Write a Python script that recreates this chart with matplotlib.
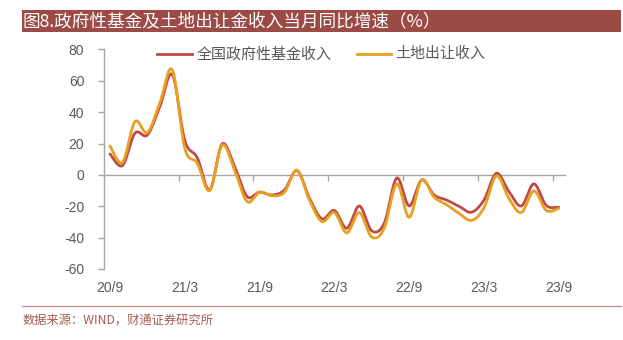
import numpy as np
import matplotlib
matplotlib.use('Agg')
import matplotlib.pyplot as plt
from matplotlib.patches import Rectangle
from matplotlib.lines import Line2D

plt.rcParams['font.family'] = ['Liberation Sans', 'Noto Sans CJK SC', 'DejaVu Sans']

months = ['20/9', '20/10', '20/11', '20/12', '21/1', '21/2', '21/3', '21/4', '21/5', '21/6',
          '21/7', '21/8', '21/9', '21/10', '21/11', '21/12', '22/1', '22/2', '22/3', '22/4',
          '22/5', '22/6', '22/7', '22/8', '22/9', '22/10', '22/11', '22/12', '23/1', '23/2',
          '23/3', '23/4', '23/5', '23/6', '23/7', '23/8', '23/9']
tick_labels = ['20/9', '21/3', '21/9', '22/3', '22/9', '23/3', '23/9']
y_ticks = [-60, -40, -20, 0, 20, 40, 60, 80]

gov_fund = [13.4, 6, 26.6, 25.5, 43.6, 64, 22, 11, -9.6, 19.8,
            5.3, -13.8, -11, -12.8, -9.6, 2.8, -14.8, -28, -22.7, -34,
            -19.8, -35.7, -30.8, -2, -19.8, -3.2, -12.8, -16, -20, -23.8,
            -16, 1, -10.6, -19.8, -5.7, -19.5, -20.6]
land_sale = [18.5, 8, 34, 27, 46, 67, 17, 7.5, -10, 19,
             3, -17, -11, -13.3, -11, 3, -16, -29.8, -24, -37,
             -24, -39.7, -34, -5.7, -27, -3.2, -14.2, -19, -24.5, -29,
             -21, -0.6, -15, -24, -10.2, -22.7, -21.3]

series_names = ['全国政府性基金收入', '土地出让收入']
colors = ['#BE4B48', '#E8A020']


def smooth(xs, ys, n=20):
    """Excel-like smoothed line (Catmull-Rom style cubic Bezier)."""
    xs = np.asarray(xs, float)
    ys = np.asarray(ys, float)
    px = np.concatenate([[xs[0]], xs, [xs[-1]]])
    py = np.concatenate([[ys[0]], ys, [ys[-1]]])
    t = np.linspace(0, 1, n, endpoint=False)
    ox, oy = [], []
    for i in range(1, len(px) - 2):
        p0x, p1x, p2x, p3x = px[i - 1], px[i], px[i + 1], px[i + 2]
        p0y, p1y, p2y, p3y = py[i - 1], py[i], py[i + 1], py[i + 2]
        b1x = p1x + (p2x - p0x) / 6
        b1y = p1y + (p2y - p0y) / 6
        b2x = p2x - (p3x - p1x) / 6
        b2y = p2y - (p3y - p1y) / 6
        bx = (1 - t) ** 3 * p1x + 3 * (1 - t) ** 2 * t * b1x + 3 * (1 - t) * t ** 2 * b2x + t ** 3 * p2x
        by = (1 - t) ** 3 * p1y + 3 * (1 - t) ** 2 * t * b1y + 3 * (1 - t) * t ** 2 * b2y + t ** 3 * p2y
        ox.append(bx)
        oy.append(by)
    ox.append([xs[-1]])
    oy.append([ys[-1]])
    return np.concatenate(ox), np.concatenate(oy)


W, H = 623, 340
fig = plt.figure(figsize=(W / 100, H / 100), dpi=100)

# axes placement
left_px, right_px, top_px, bot_px = 103.75, 565, 49.5, 269
ax = fig.add_axes([left_px / W, 1 - bot_px / H, (right_px - left_px) / W, (bot_px - top_px) / H])

x = np.arange(len(months))
for vals, c in zip([gov_fund, land_sale], colors):
    sx, sy = smooth(x, vals)
    ax.plot(sx, sy, color=c, lw=2.0, solid_capstyle='round', zorder=3)

ax.set_xlim(-0.5, len(months) - 0.5)
ax.set_ylim(-60, 80)
ax.set_yticks(y_ticks)
ax.set_yticklabels([str(v) for v in y_ticks])

axis_gray = '#A6A6A6'
text_gray = '#595959'
for s in ['top', 'right']:
    ax.spines[s].set_visible(False)
ax.spines['left'].set_color(axis_gray)
ax.spines['left'].set_linewidth(1.0)
ax.spines['bottom'].set_position(('data', 0))
ax.spines['bottom'].set_color(axis_gray)
ax.spines['bottom'].set_linewidth(1.0)

# category tick marks between groups of 6 months on the zero line
ax.set_xticks([i + 5.5 for i in range(0, len(months) - 1, 6)])
ax.set_xticklabels([])
ax.tick_params(axis='x', direction='out', length=4, color=axis_gray, width=1.0)
ax.tick_params(axis='y', direction='out', length=4, color=axis_gray, width=1.0,
               labelsize=10, labelcolor=text_gray, pad=10)

sec = ax.secondary_xaxis(0.0)
sec.set_xticks([months.index(l) for l in tick_labels])
sec.set_xticklabels(tick_labels)
sec.tick_params(length=0, labelsize=10, labelcolor=text_gray, pad=9)
sec.spines['bottom'].set_visible(False)

# title bar
fig.add_artist(Rectangle((22 / W, 1 - 32 / H), (621 - 22) / W, 22 / H,
                         transform=fig.transFigure, facecolor='#9B4A45', edgecolor='none'))
fig.text(23 / W, 1 - 21 / H, '图8.政府性基金及土地出让金收入当月同比增速（%）',
         color='white', fontsize=12.7, va='center', ha='left',
         family=['Noto Sans CJK SC', 'DejaVu Sans'])

# legend
leg_items = [(157, 192, 197), (357, 391, 395)]
for (x0, x1, tx), name, c in zip(leg_items, series_names, colors):
    fig.add_artist(Line2D([x0 / W, x1 / W], [1 - 54 / H, 1 - 54 / H], color=c, lw=2.0,
                          transform=fig.transFigure))
    fig.text(tx / W, 1 - 54 / H, name, color=text_gray, fontsize=10.8, va='center', ha='left',
             family=['Noto Sans CJK SC', 'DejaVu Sans'])

# bottom rule and source
fig.add_artist(Line2D([22 / W, 621 / W], [1 - 306 / H, 1 - 306 / H], color='#C98F8C', lw=1.0,
                      transform=fig.transFigure))
fig.text(23 / W, 1 - 320 / H, '数据来源：WIND，财通证券研究所', color='#A65A56', fontsize=8.8,
         va='center', ha='left', family=['Noto Sans CJK SC', 'DejaVu Sans'])

fig.savefig('out.png', dpi=100, facecolor='white')
